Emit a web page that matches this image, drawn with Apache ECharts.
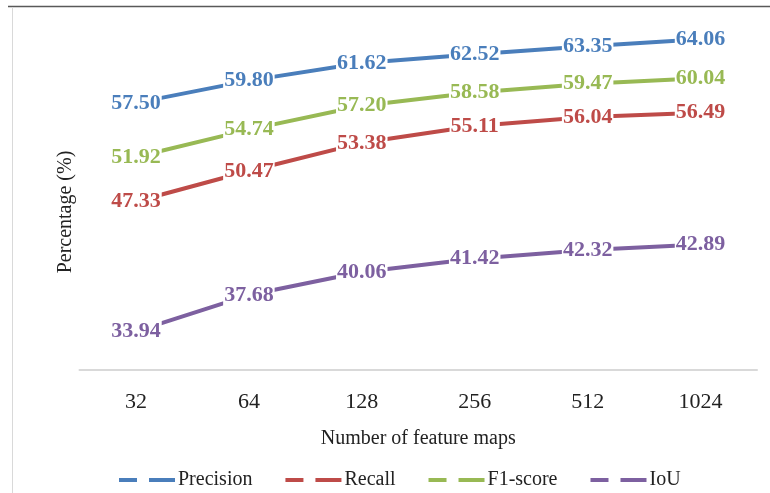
<!DOCTYPE html>
<html>
<head>
<meta charset="utf-8">
<script src="https://cdn.jsdelivr.net/npm/echarts@6/dist/echarts.min.js"></script>
<style>
  html, body { margin: 0; padding: 0; background: #fff; }
  #chart { width: 770px; height: 493px; }
</style>
</head>
<body>
<div id="chart"></div>
<script>
// Feature-map counts on the x axis
const featureMaps = ['32', '64', '128', '256', '512', '1024'];

// Metric values (%) per feature-map count
const precision = [57.50, 59.80, 61.62, 62.52, 63.35, 64.06];
const recall    = [47.33, 50.47, 53.38, 55.11, 56.04, 56.49];
const f1score   = [51.92, 54.74, 57.20, 58.58, 59.47, 60.04];
const iou       = [33.94, 37.68, 40.06, 41.42, 42.32, 42.89];

const seriesNames = ['Precision', 'Recall', 'F1-score', 'IoU'];
const seriesColors = ['#4A7EBB', '#BE4B48', '#98B954', '#7D60A0'];

const FONT = '"Liberation Serif", "DejaVu Serif", serif';

function makeSeries(name, data, color) {
  return {
    name: name,
    type: 'line',
    data: data,
    symbol: 'circle',
    symbolSize: 1,
    showSymbol: true,
    itemStyle: { color: color },
    lineStyle: { color: color, width: 4 },
    label: {
      show: true,
      position: 'inside',
      formatter: p => p.value.toFixed(2),
      color: color,
      fontFamily: FONT,
      fontWeight: 'bold',
      fontSize: 22,
      backgroundColor: '#fff',
      padding: [0, 1]
    },
    emphasis: { disabled: true },
    animation: false
  };
}

// Legend glyph: two dash segments
const dashIcon = 'path://M0,0H18V4H0Z M30,0H56V4H30Z';

const chart = echarts.init(document.getElementById('chart'), null, { renderer: 'canvas' });
chart.setOption({
  backgroundColor: '#fff',
  animation: false,
  grid: { left: 79.5, right: 13, top: 20.5, bottom: 123.5 },
  xAxis: {
    type: 'category',
    data: featureMaps,
    boundaryGap: true,
    axisLine: { lineStyle: { color: '#D9D9D9', width: 2 } },
    axisTick: { show: false },
    axisLabel: { color: '#222', fontFamily: FONT, fontSize: 22, margin: 22 },
    name: 'Number of feature maps',
    nameLocation: 'middle',
    nameGap: 59,
    nameTextStyle: { color: '#222', fontFamily: FONT, fontSize: 20 }
  },
  yAxis: {
    type: 'value',
    min: 30,
    max: 66,
    show: true,
    axisLine: { show: false },
    axisTick: { show: false },
    axisLabel: { show: false },
    splitLine: { show: false }
  },
  legend: {
    data: seriesNames,
    bottom: -2,
    left: 114,
    icon: dashIcon,
    itemWidth: 56,
    itemHeight: 4,
    itemGap: 33,
    textStyle: { color: '#222', fontFamily: FONT, fontSize: 20, padding: [0, 0, 0, -2] },
    selectedMode: false
  },
  graphic: [
    { type: 'line', shape: { x1: 8, y1: 6.5, x2: 770, y2: 6.5 }, style: { stroke: '#595959', lineWidth: 1.5 } },
    { type: 'line', shape: { x1: 12.5, y1: 7, x2: 12.5, y2: 493 }, style: { stroke: '#D9D9D9', lineWidth: 1 } },
    {
      type: 'text',
      x: 66, y: 212,
      rotation: Math.PI / 2,
      style: {
        text: 'Percentage (%)',
        fill: '#222',
        font: '20px ' + FONT,
        textAlign: 'center',
        textVerticalAlign: 'middle'
      }
    }
  ],
  series: [
    makeSeries(seriesNames[0], precision, seriesColors[0]),
    makeSeries(seriesNames[1], recall, seriesColors[1]),
    makeSeries(seriesNames[2], f1score, seriesColors[2]),
    makeSeries(seriesNames[3], iou, seriesColors[3])
  ]
});
</script>
</body>
</html>
